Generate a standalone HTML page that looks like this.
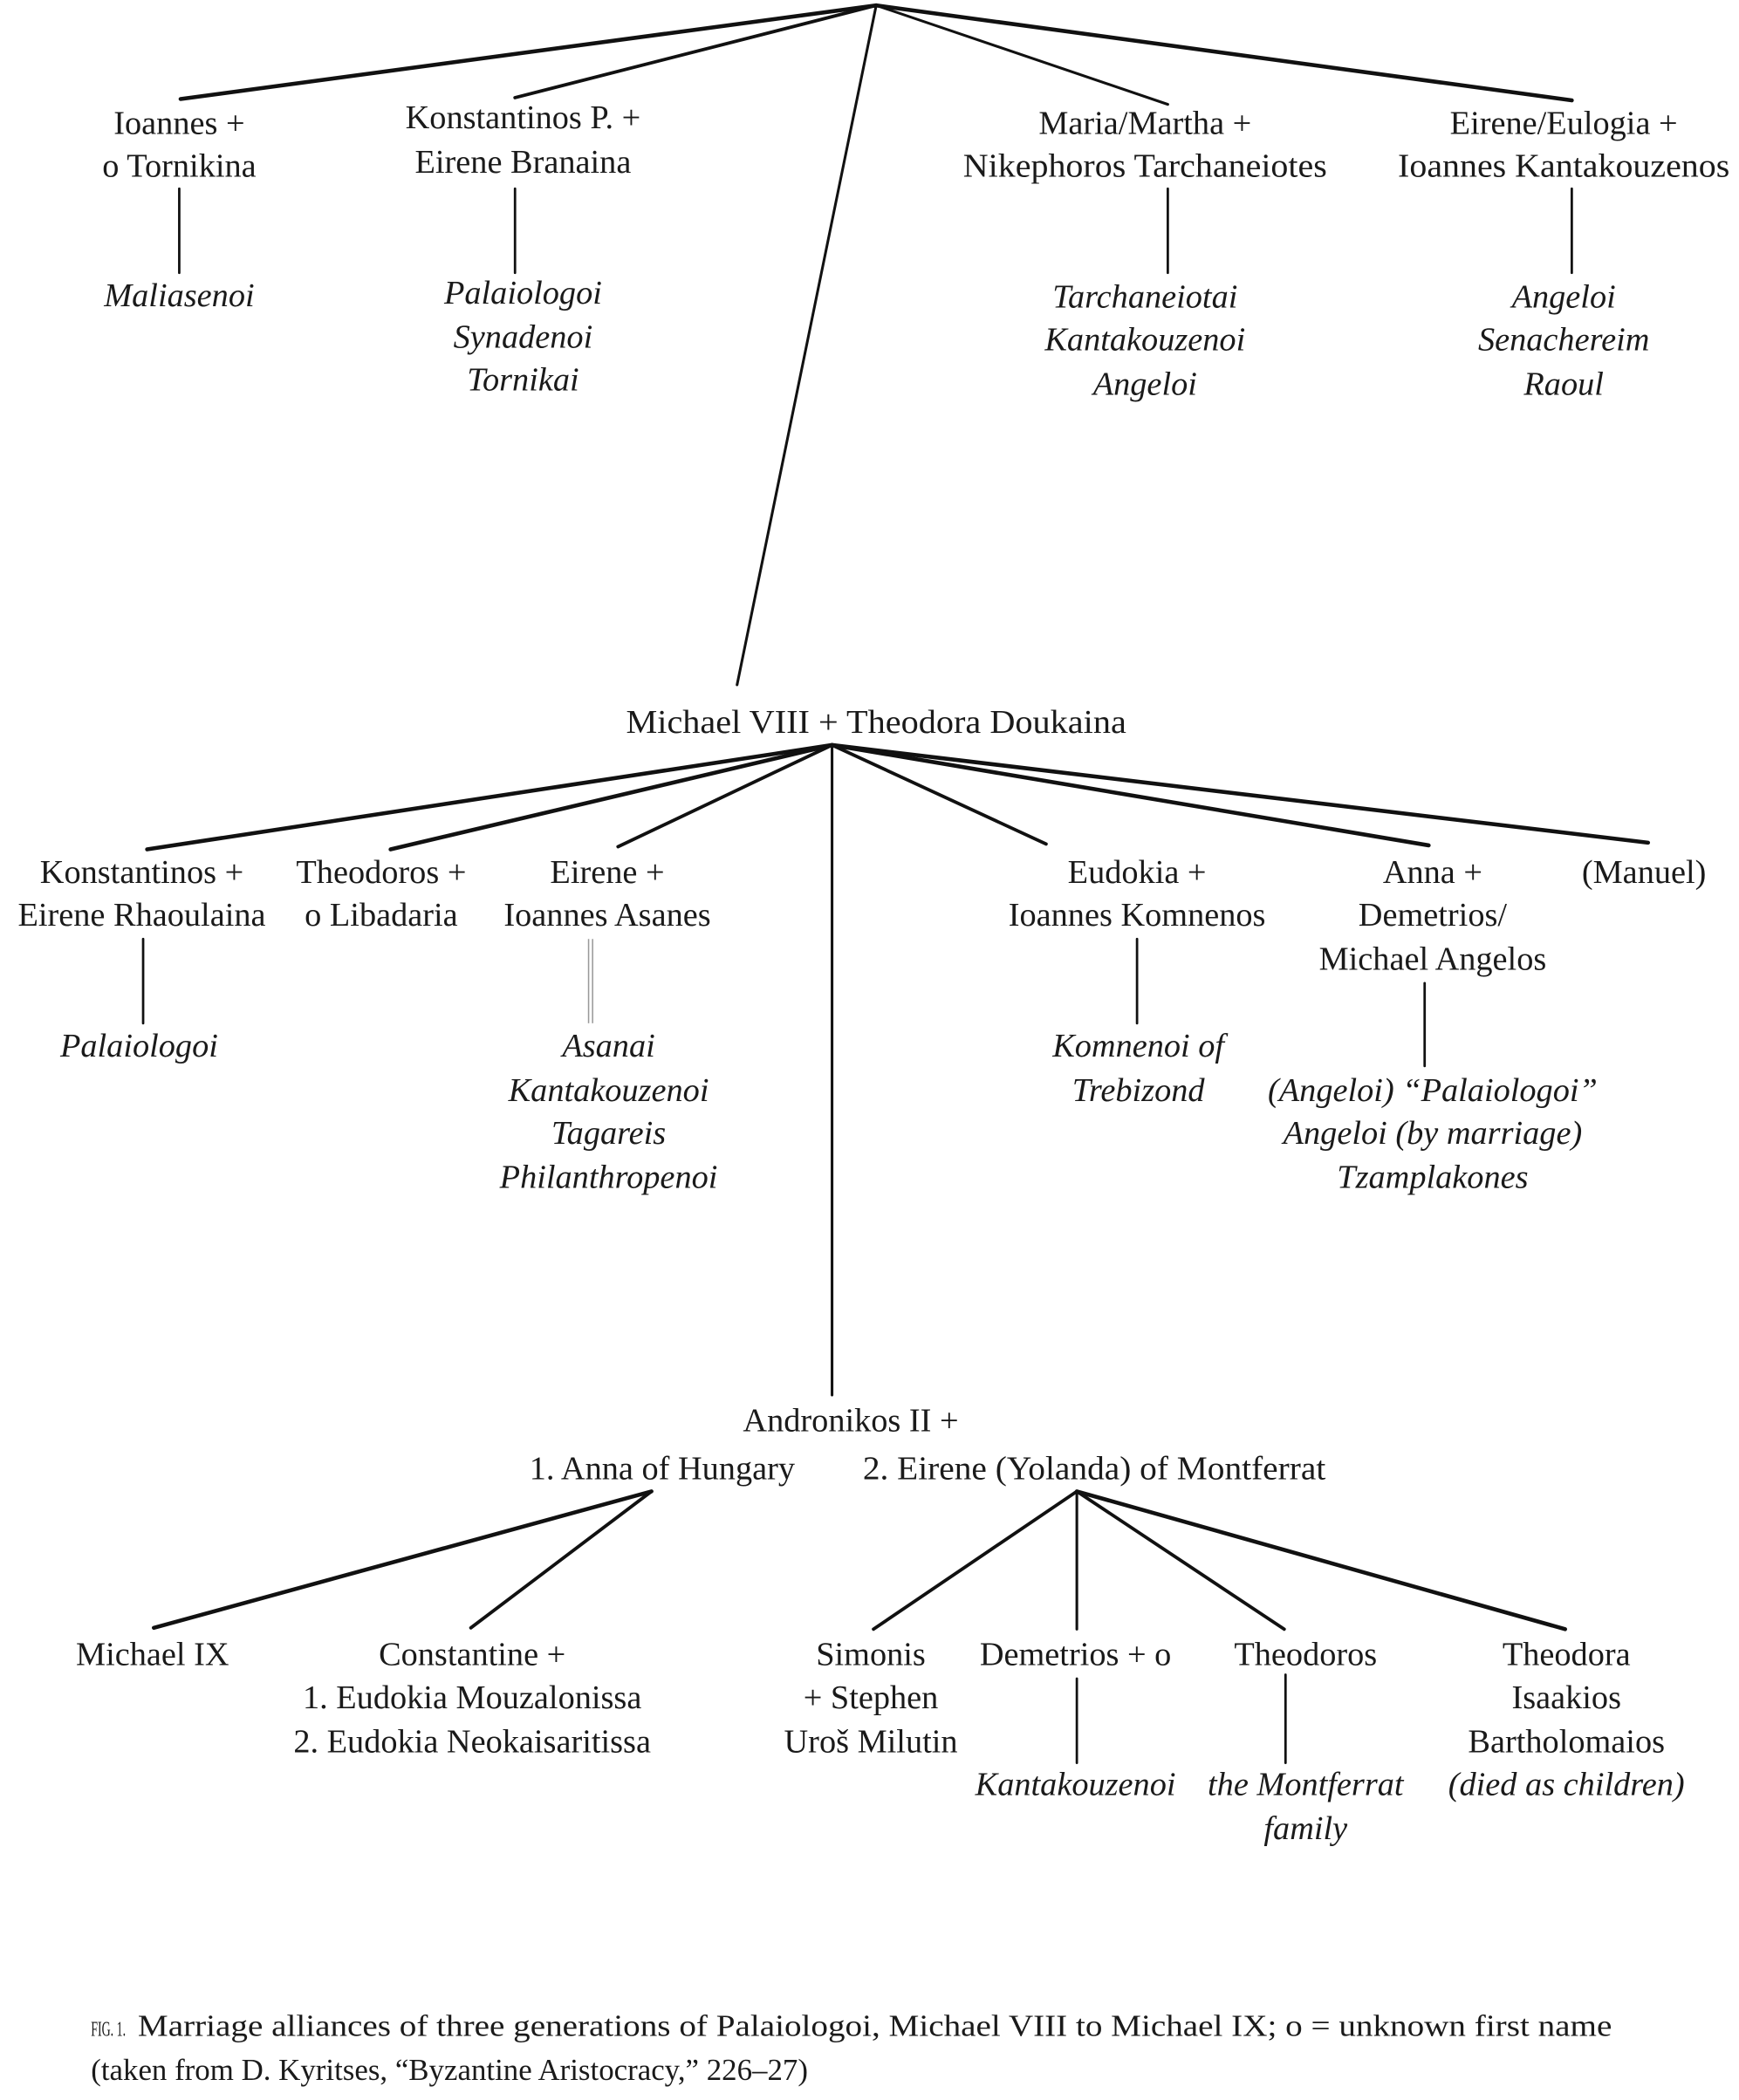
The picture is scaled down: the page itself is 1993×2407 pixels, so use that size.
<!DOCTYPE html>
<html><head><meta charset="utf-8"><style>
html,body{margin:0;padding:0;background:#fff;}
svg{display:block;}
text{font-family:"Liberation Serif",serif;font-size:25px;fill:#1a1a1a;text-anchor:middle;}
.i{font-style:italic;}
.c{text-anchor:start;font-size:23px;}
</style></head><body>
<svg width="1993" height="2407" viewBox="0 0 1300 1570" xmlns="http://www.w3.org/2000/svg">
<g stroke="#111" fill="none" stroke-linecap="round">
<line x1="655" y1="4" x2="135" y2="74" stroke-width="3"/>
<line x1="655" y1="4" x2="385" y2="73" stroke-width="2.5"/>
<line x1="655" y1="4" x2="873" y2="78" stroke-width="2"/>
<line x1="655" y1="4" x2="1175" y2="75" stroke-width="3"/>
<line x1="655" y1="4" x2="551" y2="512" stroke-width="2"/>
<line x1="134" y1="141" x2="134" y2="204" stroke-width="1.8"/>
<line x1="385" y1="141" x2="385" y2="204" stroke-width="1.8"/>
<line x1="873" y1="141" x2="873" y2="204" stroke-width="1.8"/>
<line x1="1175" y1="141" x2="1175" y2="204" stroke-width="1.8"/>
<line x1="622" y1="557" x2="110" y2="635" stroke-width="3"/>
<line x1="622" y1="557" x2="292" y2="635" stroke-width="3"/>
<line x1="622" y1="557" x2="462" y2="633" stroke-width="2.5"/>
<line x1="622" y1="557" x2="622" y2="1043" stroke-width="2"/>
<line x1="622" y1="557" x2="782" y2="631" stroke-width="2.5"/>
<line x1="622" y1="557" x2="1068" y2="632" stroke-width="3"/>
<line x1="622" y1="557" x2="1232" y2="630" stroke-width="3"/>
<line x1="107" y1="702" x2="107" y2="765" stroke-width="1.8"/>
<line x1="850" y1="702" x2="850" y2="765" stroke-width="1.8"/>
<line x1="1065" y1="735" x2="1065" y2="797" stroke-width="1.8"/>
<line x1="487" y1="1115" x2="115" y2="1217" stroke-width="3"/>
<line x1="487" y1="1115" x2="352" y2="1217" stroke-width="2.5"/>
<line x1="805" y1="1115" x2="653" y2="1218" stroke-width="2.5"/>
<line x1="805" y1="1115" x2="805" y2="1218" stroke-width="2"/>
<line x1="805" y1="1115" x2="960" y2="1218" stroke-width="2.5"/>
<line x1="805" y1="1115" x2="1170" y2="1218" stroke-width="3"/>
<line x1="805" y1="1255" x2="805" y2="1318" stroke-width="1.8"/>
<line x1="961" y1="1252" x2="961" y2="1318" stroke-width="1.8"/>
</g>
<g stroke="#999" stroke-width="1">
<line x1="440" y1="702" x2="440" y2="765"/>
<line x1="443" y1="702" x2="443" y2="765"/>
</g>
<text x="134" y="100">Ioannes +</text>
<text x="134" y="132">o Tornikina</text>
<text x="391" y="96">Konstantinos P. +</text>
<text x="391" y="129">Eirene Branaina</text>
<text x="856" y="100">Maria/Martha +</text>
<text x="856" y="132" textLength="272" lengthAdjust="spacingAndGlyphs">Nikephoros Tarchaneiotes</text>
<text x="1169" y="100">Eirene/Eulogia +</text>
<text x="1169" y="132" textLength="248" lengthAdjust="spacingAndGlyphs">Ioannes Kantakouzenos</text>
<text class="i" x="134" y="229">Maliasenoi</text>
<text class="i" x="391" y="227">Palaiologoi</text>
<text class="i" x="391" y="260">Synadenoi</text>
<text class="i" x="391" y="292">Tornikai</text>
<text class="i" x="856" y="230">Tarchaneiotai</text>
<text class="i" x="856" y="262">Kantakouzenoi</text>
<text class="i" x="856" y="295">Angeloi</text>
<text class="i" x="1169" y="230">Angeloi</text>
<text class="i" x="1169" y="262">Senachereim</text>
<text class="i" x="1169" y="295">Raoul</text>
<text x="655" y="548" textLength="374" lengthAdjust="spacingAndGlyphs">Michael VIII + Theodora Doukaina</text>
<text x="106" y="660">Konstantinos +</text>
<text x="106" y="692">Eirene Rhaoulaina</text>
<text x="285" y="660">Theodoros +</text>
<text x="285" y="692">o Libadaria</text>
<text x="454" y="660">Eirene +</text>
<text x="454" y="692">Ioannes Asanes</text>
<text x="850" y="660">Eudokia +</text>
<text x="850" y="692">Ioannes Komnenos</text>
<text x="1071" y="660">Anna +</text>
<text x="1071" y="692">Demetrios/</text>
<text x="1071" y="725">Michael Angelos</text>
<text x="1229" y="660">(Manuel)</text>
<text class="i" x="104" y="790">Palaiologoi</text>
<text class="i" x="455" y="790">Asanai</text>
<text class="i" x="455" y="823">Kantakouzenoi</text>
<text class="i" x="455" y="855">Tagareis</text>
<text class="i" x="455" y="888">Philanthropenoi</text>
<text class="i" x="851" y="790">Komnenoi of</text>
<text class="i" x="851" y="823">Trebizond</text>
<text class="i" x="1071" y="823">(Angeloi) “Palaiologoi”</text>
<text class="i" x="1071" y="855">Angeloi (by marriage)</text>
<text class="i" x="1071" y="888">Tzamplakones</text>
<text x="636" y="1070">Andronikos II +</text>
<text x="495" y="1106">1. Anna of Hungary</text>
<text x="818" y="1106" textLength="346" lengthAdjust="spacingAndGlyphs">2. Eirene (Yolanda) of Montferrat</text>
<text x="114" y="1245">Michael IX</text>
<text x="353" y="1245">Constantine +</text>
<text x="353" y="1277">1. Eudokia Mouzalonissa</text>
<text x="353" y="1310">2. Eudokia Neokaisaritissa</text>
<text x="651" y="1245">Simonis</text>
<text x="651" y="1277">+ Stephen</text>
<text x="651" y="1310">Uroš Milutin</text>
<text x="804" y="1245">Demetrios + o</text>
<text x="976" y="1245">Theodoros</text>
<text x="1171" y="1245">Theodora</text>
<text x="1171" y="1277">Isaakios</text>
<text x="1171" y="1310">Bartholomaios</text>
<text class="i" x="804" y="1342">Kantakouzenoi</text>
<text class="i" x="976" y="1342">the Montferrat</text>
<text class="i" x="976" y="1375">family</text>
<text class="i" x="1171" y="1342">(died as children)</text>
<text class="c" x="68" y="1522" style="font-size:16px" textLength="26" lengthAdjust="spacingAndGlyphs">FIG. 1.</text>
<text class="c" x="103" y="1522" textLength="1102" lengthAdjust="spacingAndGlyphs">Marriage alliances of three generations of Palaiologoi, Michael VIII to Michael IX; o = unknown first name</text>
<text class="c" x="68" y="1555" textLength="536" lengthAdjust="spacingAndGlyphs">(taken from D. Kyritses, “Byzantine Aristocracy,” 226–27)</text>
</svg>
</body></html>
